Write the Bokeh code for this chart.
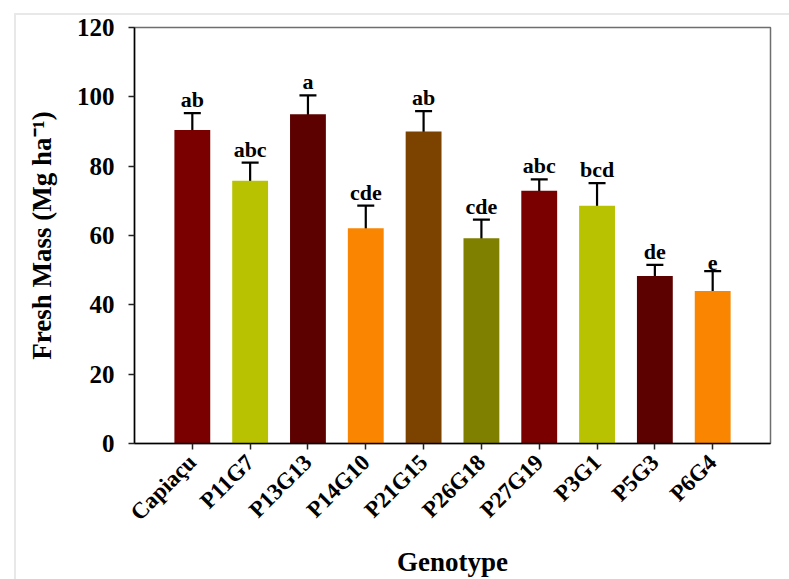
import math
from bokeh.plotting import figure
from bokeh.models import (ColumnDataSource, FactorRange, Range1d, Whisker, FixedTicker)
from bokeh.core.properties import value
from bokeh.embed import file_html
from bokeh.resources import INLINE

# ---- data ----
genotypes = ["Capiaçu", "P11G7", "P13G13", "P14G10", "P21G15",
             "P26G18", "P27G19", "P3G1", "P5G3", "P6G4"]
fresh_mass = [90.4, 75.8, 95.0, 62.1, 90.0, 59.2, 72.9, 68.6, 48.3, 44.0]
std_error = [4.9, 5.2, 5.4, 6.5, 5.9, 5.4, 3.3, 6.5, 3.2, 5.7]
letters = ["ab", "abc", "a", "cde", "ab", "cde", "abc", "bcd", "de", "e"]
y_ticks = [0, 20, 40, 60, 80, 100, 120]

bar_colors = ["#7a0000", "#b8c200", "#5c0000", "#fa8500", "#7c4200",
              "#7f7f00", "#7a0000", "#b8c200", "#5c0000", "#fa8500"]

lower = [m - e for m, e in zip(fresh_mass, std_error)]
upper = [m + e for m, e in zip(fresh_mass, std_error)]

src = ColumnDataSource(dict(x=genotypes, top=fresh_mass, lower=lower, upper=upper,
                            letter=letters, color=bar_colors))

FONT = "Liberation Serif"

p = figure(x_range=FactorRange(factors=genotypes, range_padding=0.1),
           y_range=Range1d(0, 120),
           width=789, height=579, output_backend="svg", toolbar_location=None,
           min_border_left=118, min_border_right=37, min_border_top=12,
           min_border_bottom=153,
           margin=(13, 0, 0, 14),
           styles={"border-top": "2px solid #e8e8e8",
                   "border-left": "2px solid #e8e8e8",
                   "box-sizing": "content-box"})

p.vbar(x="x", top="top", width=0.62, color="color", line_color=None, source=src)

w = Whisker(base="x", lower="lower", upper="upper", source=src,
            line_color="black", line_width=2.2)
for head in (w.upper_head, w.lower_head):
    head.size = 17
    head.line_width = 2.2
    head.line_color = "black"
p.add_layout(w)

p.text(x="x", y="upper", text="letter", source=src, text_align="center",
       text_baseline="bottom", y_offset=-1, text_font=value(FONT),
       text_font_style="bold", text_font_size="22px", text_color="black")

# axes styling
p.grid.visible = False
p.outline_line_color = "#6e6e6e"
p.outline_line_width = 1.5
p.background_fill_color = "white"
p.border_fill_color = "white"

p.yaxis.ticker = FixedTicker(ticks=y_ticks)
for ax in (p.xaxis[0], p.yaxis[0]):
    ax.axis_line_color = "black"
    ax.axis_line_width = 1.5
    ax.major_tick_line_color = "#222222"
    ax.major_tick_line_width = 1.5
    ax.major_tick_out = 6
    ax.major_tick_in = 0
    ax.minor_tick_line_color = None
    ax.major_label_text_font = FONT
    ax.major_label_text_font_style = "bold"
    ax.major_label_text_color = "black"
    ax.axis_label_text_font = FONT
    ax.axis_label_text_font_style = "bold"
    ax.axis_label_text_color = "black"

p.yaxis.major_label_text_font_size = "25px"
p.yaxis.major_label_standoff = 14
p.yaxis.axis_label = "Fresh Mass (Mg ha⁻¹)"
p.yaxis.axis_label_text_font_size = "27px"
p.yaxis.axis_label_standoff = 17

p.xaxis.major_label_orientation = math.pi / 4
p.xaxis.major_label_standoff = 9
p.xaxis.major_label_text_font_size = "23px"
p.xaxis.axis_label = "Genotype"
p.xaxis.axis_label_text_font_size = "27px"
p.xaxis.axis_label_standoff = 10

open("out.html", "w").write(file_html(p, INLINE))
